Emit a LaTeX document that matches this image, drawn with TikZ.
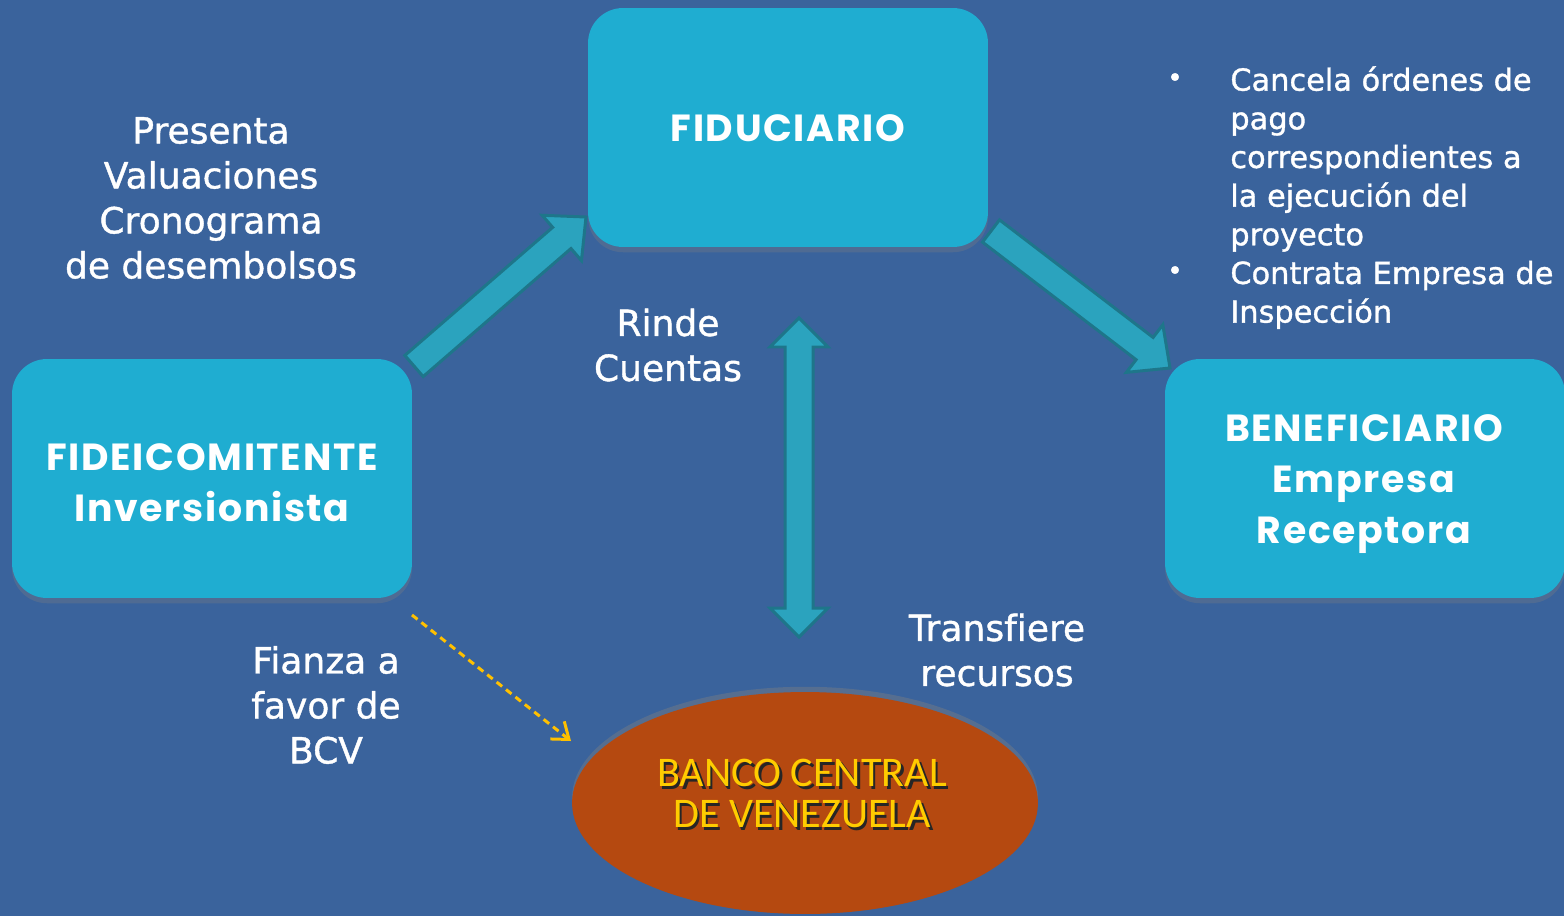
\documentclass[tikz,border=0pt]{standalone}
\usepackage{fontspec}
\setmainfont{DejaVu Sans}[FakeBold=1.1,Ligatures=NoCommon]
\newfontfamily\boxfont{Poppins}[LetterSpace=4.5]
\newfontfamily\bcvfont{Carlito}
\usetikzlibrary{calc,shadows,arrows.meta,shapes.geometric}
\definecolor{bgblue}{RGB}{58,99,156}
\definecolor{boxcyan}{RGB}{31,173,209}
\definecolor{arrfill}{RGB}{43,163,190}
\definecolor{arrline}{RGB}{30,118,138}
\definecolor{bcvfill}{RGB}{181,73,16}
\definecolor{bcvtext}{RGB}{255,204,0}
\definecolor{dashyellow}{RGB}{255,192,0}
\tikzset{
  box/.style={rounded corners=0.7cm, fill=boxcyan, minimum width=8cm, minimum height=4.78cm,
    drop shadow={opacity=0.3, shadow xshift=0pt, shadow yshift=-3pt}},
  boxtext/.style={align=center, text=white, inner sep=0pt, font=\boxfont\bfseries\fontsize{21.5}{29}\selectfont},
  lbl/.style={text=white, align=center, font=\fontsize{20.5}{25.6}\selectfont},
  bultext/.style={text=white, align=left, inner sep=0pt, font=\fontsize{17.3}{22}\selectfont},
  bulmark/.style={text=white, font=\fontsize{15}{16}\selectfont},
  blockarr/.style={fill=arrfill, draw=arrline, line width=1.7pt, line join=miter},
  dasharr/.style={draw=dashyellow, line width=1.7pt, dash pattern=on 0.14cm off 0.1cm,
    -{Straight Barb[length=0.3cm,width=0.45cm]}},
  bcvshape/.style={ellipse, fill=bcvfill, minimum width=9.32cm, minimum height=4.44cm, inner sep=0pt,
    drop shadow={opacity=0.4, shadow xshift=0pt, shadow yshift=3pt}},
  bcvlabel/.style={text=bcvtext, align=center, font=\bcvfont\fontsize{24}{23.3}\selectfont},
}
\newcommand\shtxt[1]{\rlap{\textcolor{black!85}{\hspace{1.5pt}\raisebox{-1.5pt}{#1}}}#1}
\newcommand\blockarrow[2]{%
  \coordinate (#1h) at ($(#2)!0.64cm!(#1)$);
  \filldraw[blockarr] ($(#1)!0.28cm!90:(#2)$) -- ($(#1h)!0.28cm!90:(#2)$) -- ($(#1h)!0.6cm!90:(#2)$)
    -- (#2) -- ($(#1h)!0.6cm!-90:(#2)$) -- ($(#1h)!0.28cm!-90:(#2)$) -- ($(#1)!0.28cm!-90:(#2)$) -- cycle;}
\begin{document}
\begin{tikzpicture}[x=0.02cm,y=-0.02cm]
\fill[bgblue] (0,0) rectangle (1564,916);
\useasboundingbox (0,0) rectangle (1564,916);

% boxes
\node[box] (fid) at (788,127.5) {};
\node[box] (fdc) at (212,478.5) {};
\node[box] (ben) at (1365,478.5) {};
\node[boxtext] (fidl) at (788,128) {FIDUCIARIO};
\node[boxtext] (fdcl) at (212,483) {FIDEICOMITENTE\\Inversionista};
\node[boxtext] (benl) at (1364,484) {BENEFICIARIO\\Empresa\\Receptora};
\node[bcvshape] (bcv) at (805,803) {};
\node[bcvlabel] (bcvl) at (802,795) {\shtxt{BANCO CENTRAL}\\\shtxt{DE VENEZUELA}};

% block arrows
\coordinate (a1s) at (414,366); \coordinate (a1e) at (586,217);
\coordinate (a2s) at (991,231); \coordinate (a2e) at (1170,368);
\blockarrow{a1s}{a1e}
\blockarrow{a2s}{a2e}

% double arrow
\coordinate (vt) at (799,318); \coordinate (vb) at (799,637);
\coordinate (vth) at ($(vt)!0.58cm!(vb)$);
\coordinate (vbh) at ($(vb)!0.58cm!(vt)$);
\filldraw[blockarr] (vt) -- ($(vth)!0.58cm!90:(vb)$) -- ($(vth)!0.28cm!90:(vb)$)
  -- ($(vbh)!0.28cm!-90:(vt)$) -- ($(vbh)!0.58cm!-90:(vt)$) -- (vb)
  -- ($(vbh)!0.58cm!90:(vt)$) -- ($(vbh)!0.28cm!90:(vt)$)
  -- ($(vth)!0.28cm!-90:(vb)$) -- ($(vth)!0.58cm!-90:(vb)$) -- cycle;

% dashed arrow
\coordinate (ds) at (412,615); \coordinate (de) at (571,741);
\draw[dasharr] (ds) -- (de);

% labels
\node[lbl] (l1) at (211,198) {Presenta\\Valuaciones\\Cronograma\\de desembolsos};
\node[lbl] (l2) at (668,345) {Rinde\\Cuentas};
\node[lbl] (l3) at (997,650) {Transfiere\\recursos};
\node[lbl] (l4) at (326,705) {Fianza a\\favor de\\BCV};

% bullets
\node[bulmark] (b1) at (1175,80) {•};
\node[bulmark] (b2) at (1175,273) {•};
\node[bultext, anchor=north west] (bt) at (1230,66) {Cancela órdenes de\\pago\\correspondientes a\\la ejecución del\\proyecto\\Contrata Empresa de\\Inspección};
\end{tikzpicture}
\end{document}
